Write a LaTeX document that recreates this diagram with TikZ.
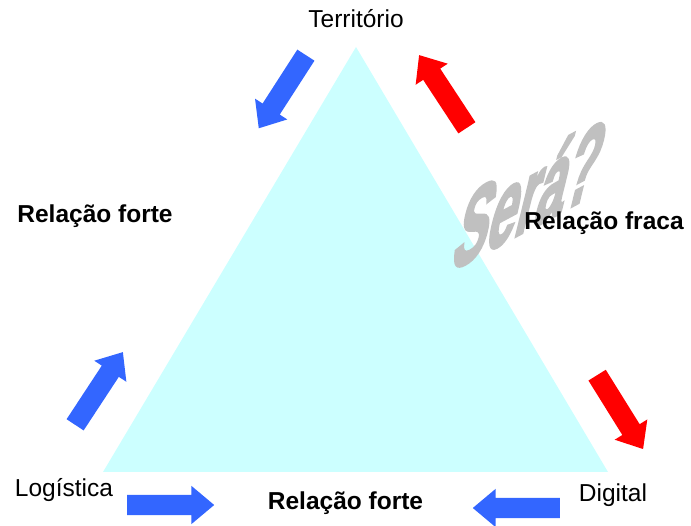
\documentclass[tikz,border=0pt]{standalone}
\usepackage{fontspec}
\setmainfont{Liberation Sans}
\newfontfamily\serafont[BoldFeatures={FakeBold=3.5}]{Liberation Sans}
\usetikzlibrary{shapes.arrows}
\definecolor{tri}{HTML}{CCFFFF}
\definecolor{ablue}{HTML}{3366FF}
\definecolor{ared}{HTML}{FF0000}
\definecolor{sgray}{HTML}{C0C0C0}
\tikzset{
  blockarrow/.style={single arrow, draw=none, fill=#1, inner xsep=0pt, inner ysep=10pt,
    single arrow head extend=9pt, single arrow tip angle=80, minimum height=87pt,
    anchor=tail},
  lbl/.style={font=\fontsize{24.5}{29}\selectfont, inner sep=0pt, anchor=base},
  blbl/.style={font=\fontsize{24.5}{29}\selectfont\bfseries, inner sep=0pt, anchor=base},
}
\begin{document}
\begin{tikzpicture}[x=1pt,y=1pt]
\useasboundingbox (0,0) rectangle (691,526);
% triangle
\coordinate (apex) at (356,479);
\coordinate (bl) at (103,54);
\coordinate (br) at (608,54);
\fill[tri] (apex) -- (bl) -- (br) -- cycle;
% Sera?
\begin{scope}[cm={0.56,0.30,0.30,1.22,(449pt,254pt)}]
\node[transform shape, anchor=base west, inner sep=0pt, text=sgray,
  font=\fontsize{92}{92}\serafont\bfseries] (sera) at (0,0) {Será?};
\end{scope}
% labels
\node[lbl] (terr) at (356,498) {Território};
\node[lbl] (log) at (64,29) {Logística};
\node[lbl] (dig) at (613,24) {Digital};
\node[blbl] (rfl) at (95,303) {Relação forte};
\node[blbl] (rfr) at (604,296) {Relação fraca};
\node[blbl] (rfb) at (345.5,16) {Relação forte};
% arrows (placed by their tails)
\node[blockarrow=ablue, rotate=237.2] (a1) at (306,471) {};
\node[blockarrow=ared, rotate=123.3] (a2) at (467,398) {};
\node[blockarrow=ablue, rotate=56.7] (a3) at (75,101) {};
\node[blockarrow=ared, rotate=-58.1] (a4) at (597,151) {};
\node[blockarrow=ablue, rotate=0] (a5) at (127,21) {};
\node[blockarrow=ablue, rotate=180] (a6) at (560,18) {};
\end{tikzpicture}
\end{document}
